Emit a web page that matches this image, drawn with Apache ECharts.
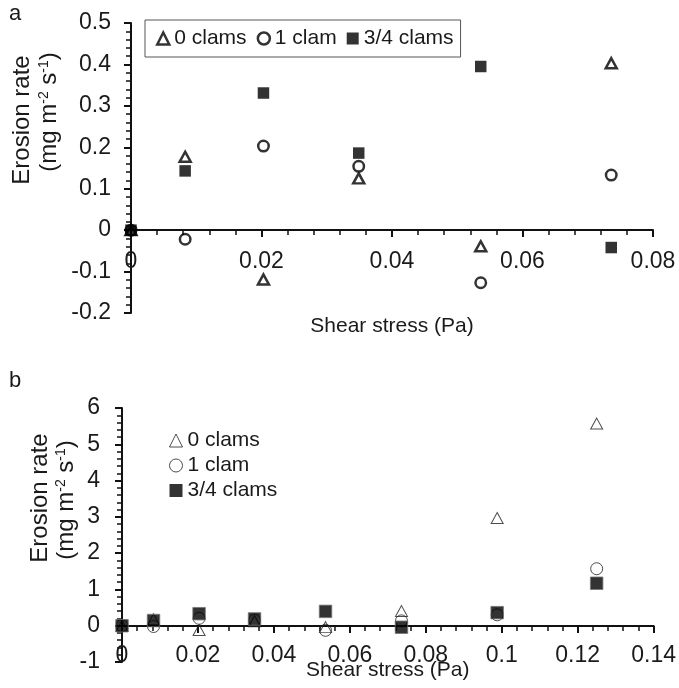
<!DOCTYPE html>
<html>
<head>
<meta charset="utf-8">
<script src="https://cdn.jsdelivr.net/npm/echarts@6/dist/echarts.min.js"></script>
<style>
html,body{margin:0;padding:0;background:#fff;}
#chart{width:679px;height:688px;}
</style>
</head>
<body>
<div id="chart"></div>
<script>
// ---- Data ----
const seriesNames = ['0 clams', '1 clam', '3/4 clams'];

// Panel a
const shearA   = [0, 0.0083, 0.0203, 0.0349, 0.0536, 0.0736];
const clams0A  = [0, 0.177, -0.119, 0.125, -0.039, 0.403];
const clams1A  = [0, -0.022, 0.203, 0.154, -0.127, 0.133];
const clams34A = [0, 0.143, 0.331, 0.186, 0.395, -0.042];

// Panel b
const shearB   = [0, 0.0083, 0.0203, 0.0349, 0.0536, 0.0736, 0.0988, 0.125];
const clams0B  = [0, 0.177, -0.119, 0.125, -0.039, 0.403, 2.97, 5.57];
const clams1B  = [0, -0.022, 0.203, 0.154, -0.127, 0.133, 0.30, 1.57];
const clams34B = [0, 0.143, 0.331, 0.186, 0.395, -0.042, 0.36, 1.17];

const xTitle = 'Shear stress (Pa)';
const yTitle1 = 'Erosion rate';
const yTitle2 = '(mg m{sup|-2} s{sup|-1})';

// ---- Helpers ----
const FONT = 'Liberation Sans, Arial, Helvetica, sans-serif';
const INK = '#111';
const TXT = '#1a1a1a';
const pairs = (xs, ys) => xs.map((x, i) => [x, ys[i]]);

function xAxisCfg(grid, max, offset, margin, nameGap) {
  return {
    type: 'value', gridIndex: grid, min: 0, max: max, interval: 0.02,
    position: 'bottom', offset: offset,
    axisLine: { show: true, onZero: false, lineStyle: { color: INK, width: 2 } },
    axisTick: { show: true, length: 7, lineStyle: { color: INK, width: 2 } },
    minorTick: { show: true, splitNumber: 5, length: 5, lineStyle: { color: INK, width: 1.5 } },
    splitLine: { show: false },
    axisLabel: { fontSize: 23, color: TXT, fontFamily: FONT, margin: margin, hideOverlap: false },
    name: xTitle, nameLocation: 'middle', nameGap: nameGap, nameMoveOverlap: false,
    nameTextStyle: { fontSize: 21, color: TXT, fontFamily: FONT }
  };
}
function yAxisCfg(grid, min, max, interval, margin) {
  return {
    type: 'value', gridIndex: grid, min: min, max: max, interval: interval,
    position: 'left',
    axisLine: { show: true, onZero: false, lineStyle: { color: INK, width: 2 } },
    axisTick: { show: true, length: 7, lineStyle: { color: INK, width: 2 } },
    minorTick: { show: true, splitNumber: 5, length: 5, lineStyle: { color: INK, width: 1.5 } },
    splitLine: { show: false },
    axisLabel: { fontSize: 23, color: TXT, fontFamily: FONT, margin: margin, hideOverlap: false }
  };
}

const openA = { color: 'rgba(0,0,0,0)', borderColor: '#000', borderWidth: 2.5 };
const openB = { color: 'rgba(0,0,0,0)', borderColor: '#222', borderWidth: 1 };
const fillA = { color: '#000' };
const fillB = { color: '#000', borderColor: '#777', borderWidth: 1 };

const option = {
  animation: false,
  backgroundColor: '#fff',
  grid: [
    { left: 131, right: 26, top: 23, height: 290 },
    { left: 122, right: 21, top: 408, height: 254 }
  ],
  xAxis: [ xAxisCfg(0, 0.08, -83, 20, 86), xAxisCfg(1, 0.14, -36, 18, 34) ],
  yAxis: [ yAxisCfg(0, -0.2, 0.5, 0.1, 20), yAxisCfg(1, -1, 6, 1, 22) ],
  legend: [
    {
      left: 145, top: 20, orient: 'horizontal',
      borderColor: '#555', borderWidth: 1,
      padding: [8, 7, 8, 11], itemGap: 10,
      itemWidth: 12, itemHeight: 12,
      textStyle: { fontSize: 21, color: TXT, fontFamily: FONT },
      data: [
        { name: seriesNames[0], icon: 'triangle', itemStyle: openA },
        { name: seriesNames[1], icon: 'circle', itemStyle: openA },
        { name: seriesNames[2], icon: 'rect', itemStyle: fillA }
      ]
    },
    {
      left: 169, top: 430, orient: 'vertical',
      padding: 0, itemGap: 4,
      itemWidth: 13, itemHeight: 13,
      textStyle: { fontSize: 21, color: TXT, fontFamily: FONT },
      data: [
        { name: seriesNames[0], icon: 'triangle', itemStyle: openB },
        { name: seriesNames[1], icon: 'circle', itemStyle: openB },
        { name: seriesNames[2], icon: 'rect', itemStyle: { color: '#000', borderWidth: 0 } }
      ]
    }
  ],
  graphic: [
    { type: 'text', left: 9, top: 3, style: { text: 'a', font: '22px ' + FONT, fill: TXT } },
    { type: 'text', left: 9, top: 370, style: { text: 'b', font: '22px ' + FONT, fill: TXT } },
    { type: 'text', x: 22, y: 120, rotation: Math.PI / 2,
      style: { text: yTitle1, font: '24px ' + FONT, fill: TXT, align: 'center', verticalAlign: 'middle' } },
    { type: 'text', x: 49, y: 112, rotation: Math.PI / 2,
      style: { text: yTitle2, font: '24px ' + FONT, fill: TXT, align: 'center', verticalAlign: 'middle',
        rich: { sup: { fontSize: 14, fontFamily: FONT, fill: TXT, verticalAlign: 'top', lineHeight: 24 } } } },
    { type: 'text', x: 40, y: 498, rotation: Math.PI / 2,
      style: { text: yTitle1, font: '24px ' + FONT, fill: TXT, align: 'center', verticalAlign: 'middle' } },
    { type: 'text', x: 66, y: 500, rotation: Math.PI / 2,
      style: { text: yTitle2, font: '24px ' + FONT, fill: TXT, align: 'center', verticalAlign: 'middle',
        rich: { sup: { fontSize: 14, fontFamily: FONT, fill: TXT, verticalAlign: 'top', lineHeight: 24 } } } }
  ],
  series: [
    { name: seriesNames[0], type: 'scatter', xAxisIndex: 0, yAxisIndex: 0, symbol: 'triangle', symbolSize: [11, 10], itemStyle: openA, data: pairs(shearA, clams0A) },
    { name: seriesNames[1], type: 'scatter', xAxisIndex: 0, yAxisIndex: 0, symbol: 'circle', symbolSize: 10.5, itemStyle: openA, data: pairs(shearA, clams1A) },
    { name: seriesNames[2], type: 'scatter', xAxisIndex: 0, yAxisIndex: 0, symbol: 'rect', symbolSize: 11.5, itemStyle: fillA, data: pairs(shearA, clams34A) },
    { name: seriesNames[0], type: 'scatter', xAxisIndex: 1, yAxisIndex: 1, symbol: 'triangle', symbolSize: [12, 11], itemStyle: openB, data: pairs(shearB, clams0B) },
    { name: seriesNames[1], type: 'scatter', xAxisIndex: 1, yAxisIndex: 1, symbol: 'circle', symbolSize: 12, itemStyle: openB, data: pairs(shearB, clams1B) },
    { name: seriesNames[2], type: 'scatter', xAxisIndex: 1, yAxisIndex: 1, symbol: 'rect', symbolSize: 12.5, itemStyle: fillB, data: pairs(shearB, clams34B) }
  ]
};

const chart = echarts.init(document.getElementById('chart'), null, { renderer: 'canvas' });
chart.setOption(option);
</script>
</body>
</html>
